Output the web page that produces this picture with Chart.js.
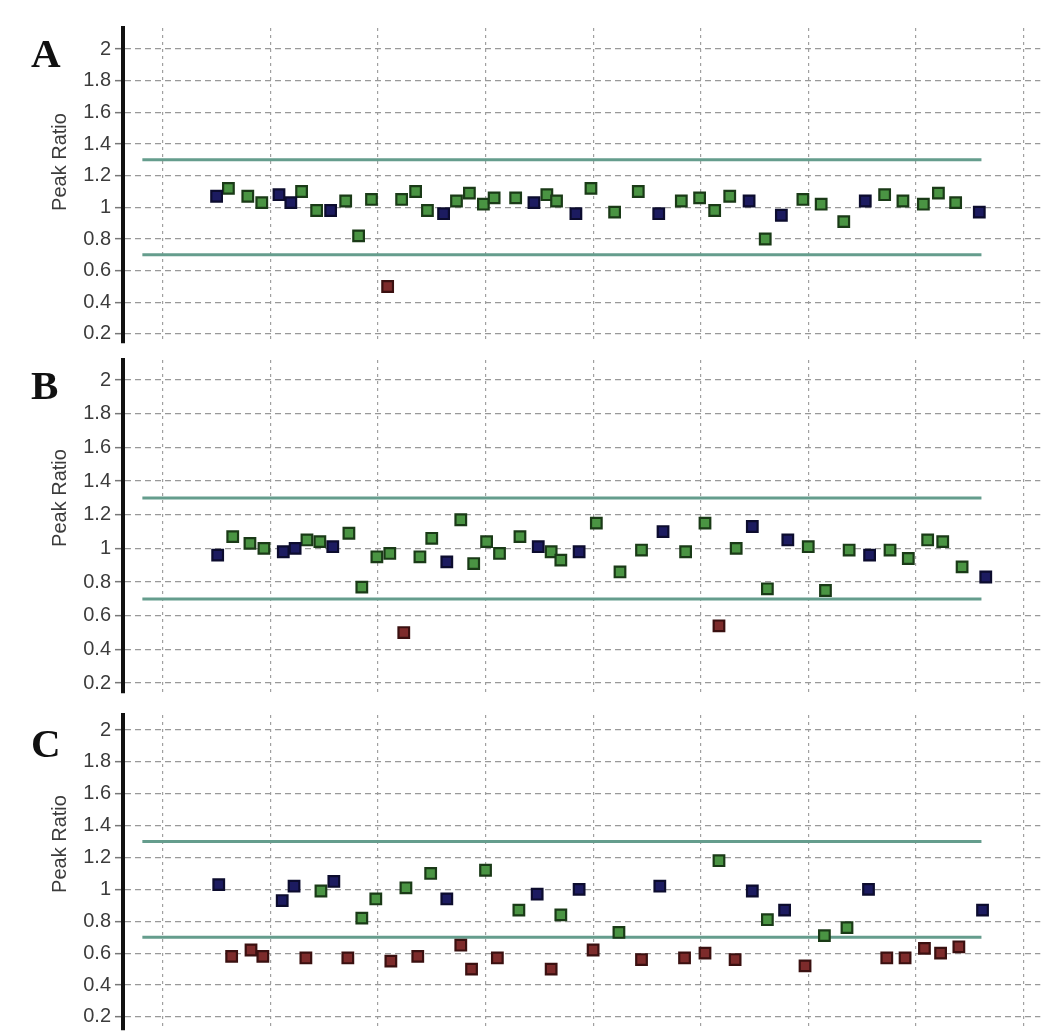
<!DOCTYPE html>
<html>
<head>
<meta charset="utf-8">
<title>Peak Ratio</title>
<script src="https://cdn.jsdelivr.net/npm/chart.js@4.4.1/dist/chart.umd.min.js"></script>
<style>
  html, body { margin: 0; padding: 0; background: #fff; overflow: hidden; }
  #wrap { position: relative; width: 1050px; height: 1034px; overflow: hidden; }
  #wrap canvas { position: absolute; left: 0; top: 0; }
  .letter { position: absolute; left: 31px; font: bold 41px "Liberation Serif", "Times New Roman", serif; line-height: 1; color: #111; }
  .ytitle { position: absolute; left: -41px; width: 200px; text-align: center; font: 20px "Liberation Sans", Arial, sans-serif; line-height: 24px; color: #3c3c3c; transform: rotate(-90deg); }
</style>
</head>
<body>
<div id="wrap">
  <canvas id="chartA" width="1050" height="1100"></canvas>
  <canvas id="chartB" width="1050" height="1100"></canvas>
  <canvas id="chartC" width="1050" height="1100"></canvas>
  <div class="letter" style="top:33px">A</div>
  <div class="letter" style="top:365px">B</div>
  <div class="letter" style="top:723px">C</div>
  <div class="ytitle" style="top:150px">Peak Ratio</div>
  <div class="ytitle" style="top:486px">Peak Ratio</div>
  <div class="ytitle" style="top:832px">Peak Ratio</div>
</div>

<script>
/* ---- data ---- */
const yTicks = [0.2, 0.4, 0.6, 0.8, 1, 1.2, 1.4, 1.6, 1.8, 2];
const xTicks = [0, 10, 20, 30, 40, 50, 60, 70, 80];

// acceptance limits
const limitX = [-1.9, 76.1];
const limitY = [1.3, 0.7];

// panel A
const aBlueX = [5.0, 10.8, 11.9, 15.6, 26.1, 34.5, 38.4, 46.1, 54.5, 57.5, 65.3, 75.9];
const aBlueY = [1.07, 1.08, 1.03, 0.98, 0.96, 1.03, 0.96, 0.96, 1.04, 0.95, 1.04, 0.97];
const aGreenX = [6.1, 7.9, 9.2, 12.9, 14.3, 17.0, 18.2, 19.4, 22.2, 23.5, 24.6, 27.3, 28.5, 29.8, 30.8, 32.8, 35.7,
  36.6, 39.8, 42.0, 44.2, 48.2, 49.9, 51.3, 52.7, 56.0, 59.5, 61.2, 63.3, 67.1, 68.8, 70.7, 72.1, 73.7];
const aGreenY = [1.12, 1.07, 1.03, 1.10, 0.98, 1.04, 0.82, 1.05, 1.05, 1.10, 0.98, 1.04, 1.09, 1.02, 1.06, 1.06, 1.08,
  1.04, 1.12, 0.97, 1.10, 1.04, 1.06, 0.98, 1.07, 0.80, 1.05, 1.02, 0.91, 1.08, 1.04, 1.02, 1.09, 1.03];
const aRedX = [20.9];
const aRedY = [0.50];

// panel B
const bBlueX = [5.1, 11.2, 12.3, 15.8, 26.4, 34.9, 38.7, 46.5, 54.8, 58.1, 65.7, 76.5];
const bBlueY = [0.96, 0.98, 1.00, 1.01, 0.92, 1.01, 0.98, 1.10, 1.13, 1.05, 0.96, 0.83];
const bGreenX = [6.5, 8.1, 9.4, 13.4, 14.6, 17.3, 18.5, 19.9, 21.1, 23.9, 25.0, 27.7, 28.9, 30.1, 31.3, 33.2, 36.1,
  37.0, 40.3, 42.5, 44.5, 48.6, 50.4, 53.3, 56.2, 60.0, 61.6, 63.8, 67.6, 69.3, 71.1, 72.5, 74.3];
const bGreenY = [1.07, 1.03, 1.00, 1.05, 1.04, 1.09, 0.77, 0.95, 0.97, 0.95, 1.06, 1.17, 0.91, 1.04, 0.97, 1.07, 0.98,
  0.93, 1.15, 0.86, 0.99, 0.98, 1.15, 1.00, 0.76, 1.01, 0.75, 0.99, 0.99, 0.94, 1.05, 1.04, 0.89];
const bRedX = [22.4, 51.7];
const bRedY = [0.50, 0.54];

// panel C
const cBlueX = [5.2, 11.1, 12.2, 15.9, 26.4, 34.8, 38.7, 46.2, 54.8, 57.8, 65.6, 76.2];
const cBlueY = [1.03, 0.93, 1.02, 1.05, 0.94, 0.97, 1.00, 1.02, 0.99, 0.87, 1.00, 0.87];
const cGreenX = [14.7, 18.5, 19.8, 22.6, 24.9, 30.0, 33.1, 37.0, 42.4, 51.7, 56.2, 61.5, 63.6];
const cGreenY = [0.99, 0.82, 0.94, 1.01, 1.10, 1.12, 0.87, 0.84, 0.73, 1.18, 0.81, 0.71, 0.76];
const cRedX = [6.4, 8.2, 9.3, 13.3, 17.2, 21.2, 23.7, 27.7, 28.7, 31.1, 36.1, 40.0, 44.5, 48.5, 50.4, 53.2, 59.7,
  67.3, 69.0, 70.8, 72.3, 74.0];
const cRedY = [0.58, 0.62, 0.58, 0.57, 0.57, 0.55, 0.58, 0.65, 0.50, 0.57, 0.50, 0.62, 0.56, 0.57, 0.60, 0.56, 0.52,
  0.57, 0.57, 0.63, 0.60, 0.64];

/* ---- helpers ---- */
const pts = (xs, ys) => xs.map((x, i) => ({ x: x, y: ys[i] }));

const markerStyles = {
  blue:  { backgroundColor: '#1c1b60', borderColor: '#0c0c2e' },
  green: { backgroundColor: '#4a9443', borderColor: '#1a3a17' },
  red:   { backgroundColor: '#7d2b2b', borderColor: '#3a1010' }
};

const markers = (xs, ys, style) => Object.assign({
  type: 'scatter',
  data: pts(xs, ys),
  pointStyle: 'rect',
  pointRadius: 7.5,
  pointHoverRadius: 7.5,
  borderWidth: 2.2,
  order: 0
}, markerStyles[style]);

const limitLine = y => ({
  type: 'line',
  data: limitX.map(x => ({ x: x, y: y })),
  borderColor: '#659d8d',
  borderWidth: 3,
  pointRadius: 0,
  fill: false,
  order: 5
});

// canvas is 1100 tall so the bottom padding never gets eaten by tick labels
const CANVAS_H = 1100;

const makePanel = (id, top, bottom, yMin, yMax, series) => {
  const datasets = series.map(s => markers(s[0], s[1], s[2]));
  limitY.forEach(y => datasets.push(limitLine(y)));

  new Chart(document.getElementById(id), {
    data: { datasets: datasets },
    options: {
      responsive: false,
      animation: false,
      events: [],
      layout: { padding: { top: top, bottom: CANVAS_H - bottom, left: 0, right: 5 } },
      plugins: { legend: { display: false }, tooltip: { enabled: false } },
      scales: {
        x: {
          type: 'linear',
          min: -3.7,
          max: 81.57,
          afterBuildTicks: s => { s.ticks = xTicks.map(v => ({ value: v })); },
          afterFit: s => { s.height = 0; },
          ticks: { display: false },
          grid: { color: '#a0a0a0', lineWidth: 1.2, drawTicks: false },
          border: { display: false, dash: [3, 4] }
        },
        y: {
          type: 'linear',
          min: yMin,
          max: yMax,
          afterBuildTicks: s => { s.ticks = yTicks.map(v => ({ value: v })); },
          afterFit: s => { s.width = 123; },
          ticks: {
            color: '#3c3c3c',
            padding: 4,
            font: { family: '"Liberation Sans", Arial, sans-serif', size: 20 },
            callback: v => String(v)
          },
          grid: { color: '#999', lineWidth: 1.3, tickLength: 8, tickColor: '#777', tickWidth: 1.5 },
          border: { display: true, color: '#111', width: 4, dash: [6, 4] }
        }
      }
    }
  });
};

makePanel('chartA', 28, 343, 0.143, 2.133, [
  [aBlueX, aBlueY, 'blue'], [aGreenX, aGreenY, 'green'], [aRedX, aRedY, 'red']
]);
makePanel('chartB', 360, 693, 0.141, 2.119, [
  [bBlueX, bBlueY, 'blue'], [bGreenX, bGreenY, 'green'], [bRedX, bRedY, 'red']
]);
makePanel('chartC', 715, 1030, 0.118, 2.094, [
  [cBlueX, cBlueY, 'blue'], [cGreenX, cGreenY, 'green'], [cRedX, cRedY, 'red']
]);
</script>
</body>
</html>
